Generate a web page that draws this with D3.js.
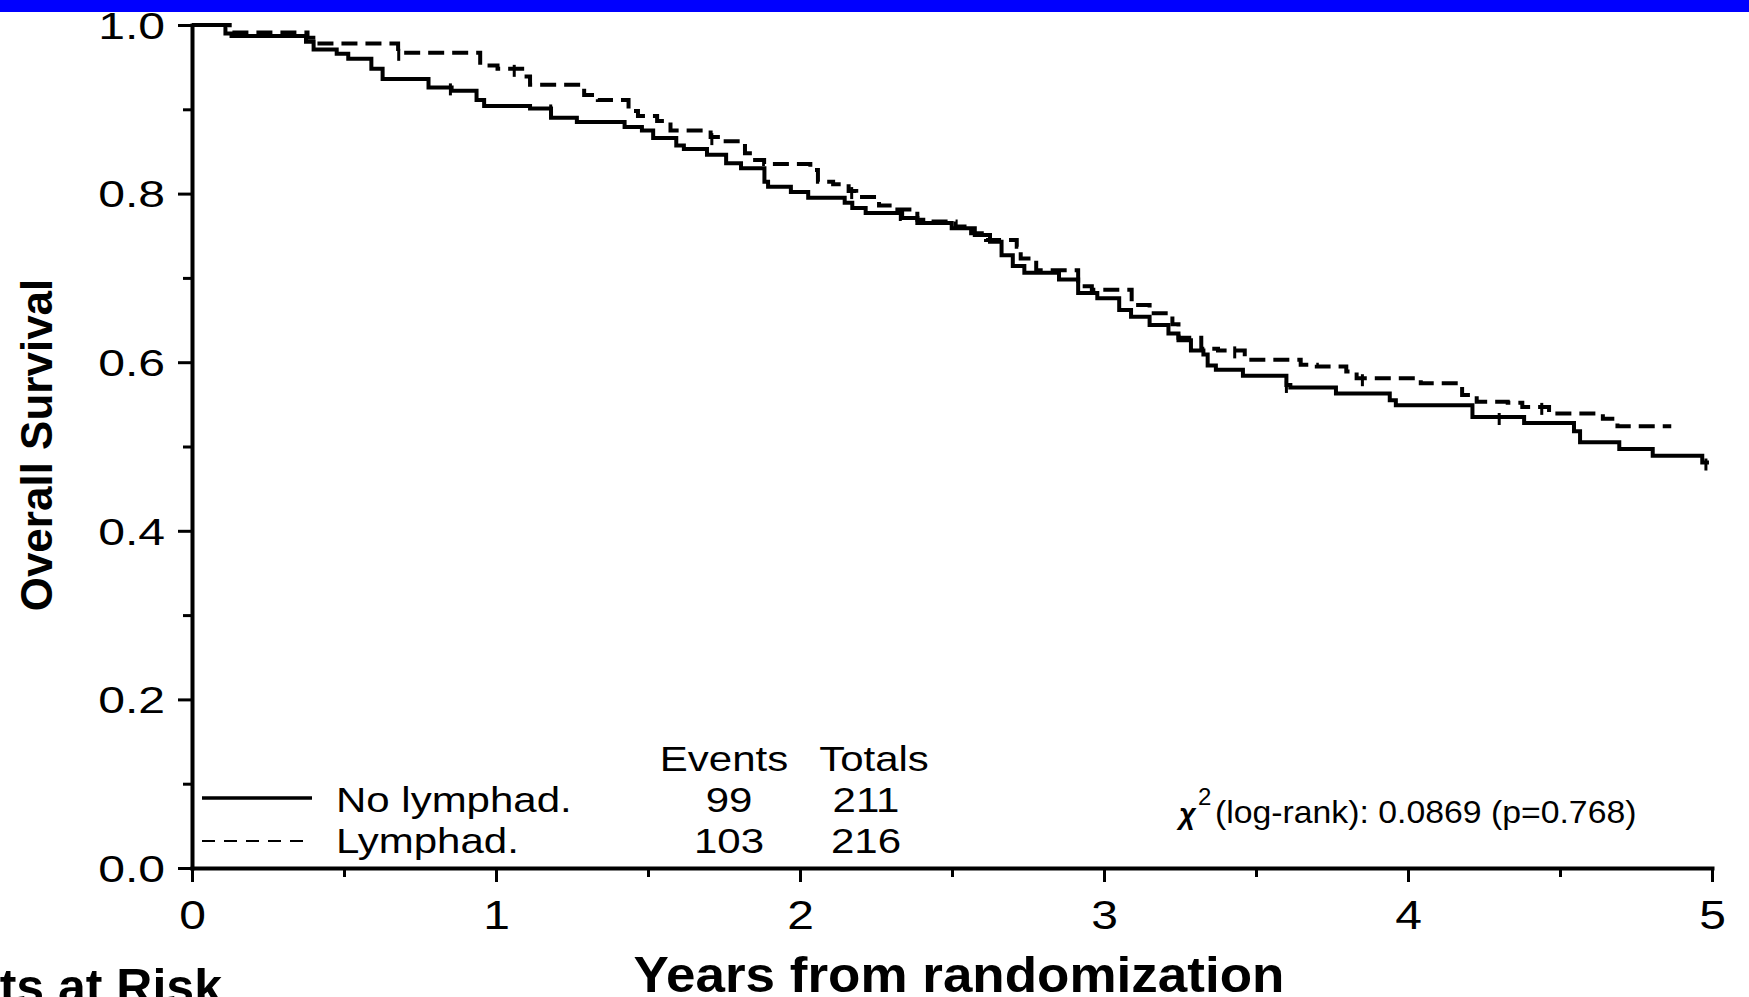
<!DOCTYPE html>
<html><head><meta charset="utf-8">
<script src="https://cdn.jsdelivr.net/npm/d3@7"></script>
<style>html,body{margin:0;padding:0;background:#fff;overflow:hidden}svg{display:block}</style>
</head><body>
<svg id="chart" width="1749" height="997"></svg>
<script>
// ---------- data ----------
const noLymphTimes = [0,0.11,0.13,0.375,0.40,0.476,0.514,0.59,0.627,0.778,0.854,0.936,0.961,1.112,1.181,1.266,1.423,1.48,1.517,1.593,1.618,1.694,1.757,1.806,1.883,1.895,1.97,2.027,2.147,2.172,2.216,2.336,2.386,2.499,2.575,2.625,2.663,2.70,2.738,2.852,2.915,2.978,3.05,3.089,3.15,3.212,3.245,3.286,3.327,3.341,3.368,3.457,3.60,3.613,3.763,3.94,3.96,4.212,4.382,4.546,4.566,4.695,4.805,4.968];
const noLymphSurv  = [1.0,0.990,0.987,0.980,0.971,0.966,0.960,0.948,0.936,0.926,0.922,0.911,0.904,0.901,0.890,0.885,0.879,0.875,0.866,0.857,0.853,0.846,0.836,0.830,0.814,0.808,0.802,0.795,0.789,0.783,0.777,0.771,0.765,0.759,0.751,0.743,0.727,0.714,0.706,0.698,0.682,0.676,0.662,0.654,0.644,0.634,0.626,0.614,0.609,0.596,0.591,0.584,0.573,0.570,0.563,0.555,0.549,0.535,0.528,0.518,0.505,0.497,0.489,0.481];
const noLymphEnd = 4.99;
const lymphTimes = [0,0.124,0.38,0.41,0.678,0.948,1.005,1.093,1.112,1.29,1.335,1.436,1.467,1.53,1.574,1.706,1.743,1.819,1.845,1.882,2.034,2.059,2.109,2.16,2.185,2.26,2.31,2.386,2.43,2.512,2.563,2.612,2.713,2.726,2.777,2.915,2.96,3.091,3.15,3.225,3.245,3.32,3.375,3.463,3.647,3.70,3.797,3.831,4.042,4.178,4.226,4.328,4.376,4.464,4.641,4.689];
const lymphSurv  = [1.0,0.991,0.985,0.978,0.967,0.952,0.948,0.939,0.929,0.917,0.911,0.898,0.892,0.886,0.875,0.867,0.862,0.848,0.840,0.835,0.828,0.814,0.811,0.803,0.796,0.786,0.781,0.769,0.767,0.761,0.753,0.745,0.737,0.723,0.709,0.690,0.686,0.668,0.658,0.645,0.629,0.616,0.614,0.603,0.597,0.595,0.589,0.581,0.575,0.561,0.553,0.552,0.547,0.539,0.533,0.524];
const lymphEnd = 4.866;
const noLymphCensor = [0.85,1.18,2.33,3.6,4.3,4.98];
const lymphCensor = [0.68,1.06,1.71,2.17,3.43,3.85,4.44];
const xTickValues = [0,1,2,3,4,5];
const xMinorTicks = [0.5,1.5,2.5,3.5,4.5];
const yTickValues = [0,0.2,0.4,0.6,0.8,1.0];
const yMinorTicks = [0.1,0.3,0.5,0.7,0.9];
const legendLabels = ["No lymphad.","Lymphad."];
const eventCounts = [99,103];
const totalCounts = [211,216];
const chiLabel = "(log-rank): 0.0869 (p=0.768)";
const xTitle = "Years from randomization";
const yTitle = "Overall Survival";
const riskTitle = "Patients at Risk";

// ---------- drawing ----------
const FONT = "'Liberation Sans', Arial, Helvetica, sans-serif";
const svg = d3.select("#chart").style("font-family", FONT);
svg.append("rect").attr("x",0).attr("y",0).attr("width",1749).attr("height",997).attr("fill","#fff");
svg.append("rect").attr("x",0).attr("y",0).attr("width",1749).attr("height",12).attr("fill","#0000ff");

const x = d3.scaleLinear().domain([0,5]).range([192,1712]);
const y = d3.scaleLinear().domain([0,1]).range([868,25]);

function styleAxis(g){
  g.select(".domain").attr("stroke","#000").attr("stroke-width",4).attr("stroke-linecap","square");
  g.selectAll(".tick line").attr("stroke","#000").attr("stroke-width",3);
}

// x axis
const gx = svg.append("g").attr("transform",`translate(0,${y(0)})`)
  .call(d3.axisBottom(x).tickValues(xTickValues).tickFormat(d3.format("d")).tickSize(14).tickSizeOuter(0).tickPadding(19));
styleAxis(gx);
gx.selectAll(".tick text").attr("font-size",40).attr("font-family",FONT).attr("fill","#000")
  .attr("transform","scale(1.2,1)");
const gxm = svg.append("g").attr("transform",`translate(0,${y(0)})`)
  .call(d3.axisBottom(x).tickValues(xMinorTicks).tickFormat("").tickSize(9).tickSizeOuter(0));
gxm.select(".domain").remove();
gxm.selectAll(".tick line").attr("stroke","#000").attr("stroke-width",3);

// y axis
const gy = svg.append("g").attr("transform",`translate(${x(0)},0)`)
  .call(d3.axisLeft(y).tickValues(yTickValues).tickFormat(d3.format(".1f")).tickSize(14).tickSizeOuter(0));
styleAxis(gy);
gy.selectAll(".tick text").attr("font-size",37).attr("font-family",FONT).attr("fill","#000")
  .attr("x",0).attr("dy","0.36em").attr("transform","translate(-27,0) scale(1.3,1)");
const gym = svg.append("g").attr("transform",`translate(${x(0)},0)`)
  .call(d3.axisLeft(y).tickValues(yMinorTicks).tickFormat("").tickSize(9).tickSizeOuter(0));
gym.select(".domain").remove();
gym.selectAll(".tick line").attr("stroke","#000").attr("stroke-width",3);

// curves
const line = d3.line().x(d=>x(d[0])).y(d=>y(d[1])).curve(d3.curveStepAfter);
function pts(times, surv, end){
  const p = times.map((t,i)=>[t,surv[i]]);
  p.push([end, surv[surv.length-1]]);
  return p;
}
function survAt(times, surv, t){
  const i = d3.bisectRight(times, t) - 1;
  return surv[Math.max(0,i)];
}
const series = [
  {times:noLymphTimes, surv:noLymphSurv, end:noLymphEnd, censor:noLymphCensor, dash:null},
  {times:lymphTimes, surv:lymphSurv, end:lymphEnd, censor:lymphCensor, dash:"16,8"}
];
series.forEach(s=>{
  svg.append("path").attr("d", line(pts(s.times,s.surv,s.end)))
    .attr("fill","none").attr("stroke","#000").attr("stroke-width",4)
    .attr("stroke-dasharray", s.dash);
  svg.append("g").selectAll("line").data(s.censor).join("line")
    .attr("x1",d=>x(d)).attr("x2",d=>x(d))
    .attr("y1",d=>y(survAt(s.times,s.surv,d))-4)
    .attr("y2",d=>y(survAt(s.times,s.surv,d))+8)
    .attr("stroke","#000").attr("stroke-width",3);
});

// helper for horizontally stretched text
function stext(str, tx, ty, size, sx, anchor, weight){
  return svg.append("text").attr("transform",`translate(${tx},${ty}) scale(${sx},1)`)
    .attr("font-size",size).attr("font-weight",weight||"normal").attr("text-anchor",anchor||"start")
    .attr("fill","#000").text(str);
}

// legend
const legendRowsY = [812, 853];
const legendLineY = [798, 841];
svg.append("line").attr("x1",202).attr("x2",312).attr("y1",legendLineY[0]).attr("y2",legendLineY[0])
  .attr("stroke","#000").attr("stroke-width",3.5);
svg.append("line").attr("x1",202).attr("x2",312).attr("y1",legendLineY[1]).attr("y2",legendLineY[1])
  .attr("stroke","#000").attr("stroke-width",2).attr("stroke-dasharray","13,9");
legendLabels.forEach((l,i)=>stext(l, 336, legendRowsY[i], 35, 1.2, "start"));
stext("Events", 724, 771, 35, 1.2, "middle");
stext("Totals", 874, 771, 35, 1.2, "middle");
eventCounts.forEach((v,i)=>stext(String(v), 729, legendRowsY[i], 35, 1.2, "middle"));
totalCounts.forEach((v,i)=>stext(String(v), 866, legendRowsY[i], 35, 1.2, "middle"));

// chi-square
svg.append("text").attr("x",1179).attr("y",824).attr("font-size",29).attr("font-weight","bold")
  .attr("font-style","italic").attr("fill","#000").text("χ");
svg.append("text").attr("x",1198).attr("y",805).attr("font-size",24).attr("fill","#000").text("2");
stext(chiLabel, 1215, 823, 31, 1.09, "start");

// titles
stext(xTitle, 959, 992, 50, 1.06, "middle", "bold");
stext(riskTitle, 222, 1004, 50, 1.0, "end", "bold");
svg.append("text").attr("transform","translate(52,445) rotate(-90)")
  .attr("font-size",44).attr("font-weight","bold").attr("text-anchor","middle")
  .attr("fill","#000").text(yTitle);
</script>
</body></html>
